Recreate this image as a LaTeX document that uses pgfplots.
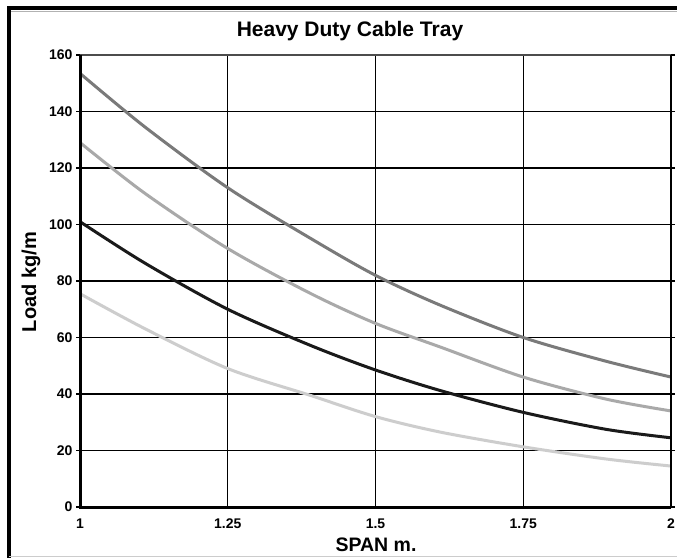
\documentclass[border=0pt]{standalone}
\usepackage{fontspec}
\setmainfont{Liberation Sans}
\usepackage{pgfplots}
\pgfplotsset{compat=1.18}
\definecolor{cA}{HTML}{7A7A7A}
\definecolor{cB}{HTML}{A9A9A9}
\definecolor{cC}{HTML}{1A1A1A}
\definecolor{cD}{HTML}{CDCDCD}
\begin{document}
\begin{tikzpicture}[x=1pt,y=1pt]
\useasboundingbox (0,0) rectangle (677,558);
\fill[white] (0,0) rectangle (677,558);
\draw[line width=4pt] (7,549.5) -- (677,549.5);
\draw[gray!60, line width=0.8pt] (11,546.8) -- (677,546.8);
\draw[line width=4pt] (9,551.5) -- (9,0);
\draw[gray!40, line width=1pt] (9,2) -- (677,2);
\node[font=\bfseries\fontsize{21}{24}\selectfont] at (350,527) {Heavy Duty Cable Tray};
\node[font=\bfseries\fontsize{19.5}{22}\selectfont] at (376,13) {SPAN m.};
\node[font=\bfseries\fontsize{20}{22}\selectfont, rotate=90] at (31,276) {Load kg/m};
\begin{axis}[at={(80pt,51pt)}, anchor=south west, width=591pt, height=452pt, scale only axis,
  xmin=1, xmax=2, ymin=0, ymax=160,
  xtick={1,1.25,1.5,1.75,2}, xticklabels={1,1.25,1.5,1.75,2},
  ytick={0,20,40,60,80,100,120,140,160}, yticklabels={0,20,40,60,80,100,120,140,160},
  ticklabel style={font=\bfseries\fontsize{14}{16}\selectfont},
  grid=major, grid style={black, line width=1.3pt},
  axis line style={draw=none},
  tick align=outside, major tick length=4pt,
  ytick style={black, line width=1.5pt}, xtick style={draw=none},
  xticklabel style={yshift=-4pt},
  clip=false]
\addplot[cA, line width=3pt, smooth] coordinates {(1,153.5) (1.11,134.5) (1.25,113) (1.39,95.1) (1.5,82) (1.61,71.4) (1.75,60) (1.89,51.6) (2,46)};
\addplot[cB, line width=3pt, smooth] coordinates {(1,129) (1.11,111) (1.25,91.5) (1.39,75.6) (1.5,65) (1.61,56.6) (1.75,46) (1.89,38.2) (2,34)};
\addplot[cC, line width=3pt, smooth] coordinates {(1,101) (1.11,86.3) (1.25,70) (1.39,57.2) (1.5,48.5) (1.61,41.2) (1.75,33.5) (1.89,27.5) (2,24.5)};
\addplot[cD, line width=3pt, smooth] coordinates {(1,75.5) (1.11,63.1) (1.25,49) (1.39,39.5) (1.5,32) (1.61,26.5) (1.75,21.3) (1.89,17) (2,14.5)};
\draw[gray!60!black, line width=1.5pt] (rel axis cs:0,1) -- (rel axis cs:1,1);
\draw[black, line width=2pt] (rel axis cs:1,0) -- (rel axis cs:1,1);
\draw[black, line width=3pt] (rel axis cs:0,1) -- (rel axis cs:0,0) -- (rel axis cs:1,0);
\end{axis}
\end{tikzpicture}
\end{document}
